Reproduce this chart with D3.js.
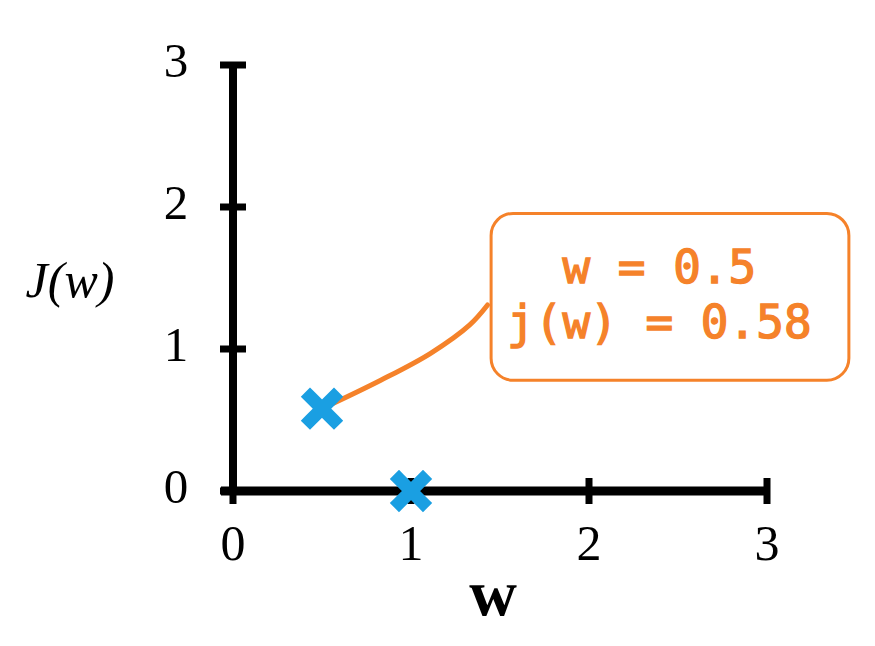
<!DOCTYPE html>
<html><head><meta charset="utf-8">
<script src="https://cdn.jsdelivr.net/npm/d3@7"></script>
<style>body{margin:0;background:#fff}svg{display:block}</style>
</head><body>
<script>
const xTicks = [0, 1, 2, 3];
const yTicks = [0, 1, 2, 3];
const pointsW = [0.5, 1];
const pointsJ = [0.58, 0];
const connectorW = [0.5, 0.83, 1.11, 1.33, 1.43];
const connectorJ = [0.58, 0.78, 0.97, 1.17, 1.31];
const boxW = [1.45, 3.46];
const boxJ = [0.78, 1.955];
const boxLines = ["  w = 0.5", "j(w) = 0.58"];

const W = 875, H = 646;
const svg = d3.select("body").append("svg").attr("width", W).attr("height", H);
const x = d3.scaleLinear().domain([0, 3]).range([233, 767]);
const y = d3.scaleLinear().domain([0, 3]).range([491, 65]);

const black = "#000";
svg.append("line").attr("x1", x(0)).attr("x2", x(0)).attr("y1", y(3)).attr("y2", y(0) + 4)
  .attr("stroke", black).attr("stroke-width", 8);
svg.append("line").attr("x1", x(0) - 12).attr("x2", x(3)).attr("y1", y(0)).attr("y2", y(0))
  .attr("stroke", black).attr("stroke-width", 9);

svg.selectAll(".yt").data(yTicks).join("line")
  .attr("x1", x(0) - 13).attr("x2", x(0) + 13)
  .attr("y1", d => y(d)).attr("y2", d => y(d))
  .attr("stroke", black).attr("stroke-width", 7);
svg.selectAll(".ytl").data(yTicks).join("text")
  .attr("x", 176).attr("y", d => y(d) + 12)
  .attr("text-anchor", "middle")
  .attr("font-family", "Liberation Serif, serif").attr("font-size", 49)
  .text(d => d);

svg.selectAll(".xt").data(xTicks).join("line")
  .attr("x1", d => x(d)).attr("x2", d => x(d))
  .attr("y1", y(0) - 13).attr("y2", y(0) + 13)
  .attr("stroke", black).attr("stroke-width", 7);
svg.selectAll(".xtl").data(xTicks).join("text")
  .attr("x", d => x(d)).attr("y", 560)
  .attr("text-anchor", "middle")
  .attr("font-family", "Liberation Serif, serif").attr("font-size", 50)
  .text(d => d);

svg.append("text").attr("x", 493).attr("y", 615).attr("text-anchor", "middle")
  .attr("font-family", "Liberation Serif, serif").attr("font-weight", "bold").attr("font-size", 66).text("w");
svg.append("text").attr("x", 70).attr("y", 297).attr("text-anchor", "middle")
  .attr("font-family", "Liberation Serif, serif").attr("font-style", "italic")
  .attr("font-size", 50).text("J(w)");

const orange = "#f5822a";
const conn = connectorW.map((w, i) => [x(w), y(connectorJ[i])]);
svg.append("path").attr("d", d3.line().curve(d3.curveCatmullRom)(conn))
  .attr("fill", "none").attr("stroke", orange).attr("stroke-width", 5).attr("stroke-linecap", "round");

svg.append("rect").attr("x", x(boxW[0])).attr("y", y(boxJ[1]))
  .attr("width", x(boxW[1]) - x(boxW[0])).attr("height", y(boxJ[0]) - y(boxJ[1]))
  .attr("rx", 22).attr("fill", "#fff").attr("stroke", orange).attr("stroke-width", 3);
svg.selectAll(".bl").data(boxLines).join("text")
  .attr("x", 507).attr("y", (d, i) => 283 + i * 55)
  .attr("xml:space", "preserve").style("white-space", "pre")
  .attr("font-family", "DejaVu Sans Mono, monospace").attr("font-size", 46)
  .attr("fill", orange).attr("stroke", orange).attr("stroke-width", 1.4)
  .text(d => d);

const blue = "#1a9fe2";
const pts = pointsW.map((w, i) => [x(w), y(pointsJ[i])]);
const g = svg.selectAll(".mk").data(pts).join("g").attr("transform", d => `translate(${d[0]},${d[1]})`);
g.append("path").attr("d", "M-12,-12L12,12M-12,12L12,-12")
  .attr("stroke", blue).attr("stroke-width", 13).attr("stroke-linecap", "square");
</script>
</body></html>
